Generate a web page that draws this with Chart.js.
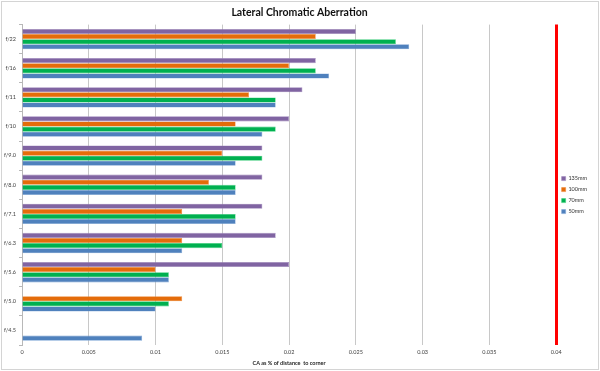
<!DOCTYPE html>
<html>
<head>
<meta charset="utf-8">
<script src="https://cdn.jsdelivr.net/npm/chart.js@4"></script>
<style>
    body { margin: 0; background: #fff; }
    #wrap { width: 600px; height: 371px; }
</style>
</head>
<body>
<div id="wrap"><canvas id="caChart" width="600" height="371"></canvas></div>
<script>
const apertures = ['f/22', 'f/16', 'f/11', 'f/10', 'f/9.0', 'f/8.0', 'f/7.1', 'f/6.3', 'f/5.6', 'f/5.0', 'f/4.5'];
const ca135 = [0.025, 0.022, 0.021, 0.020, 0.018, 0.018, 0.018, 0.019, 0.020, null, null];
const ca100 = [0.022, 0.020, 0.017, 0.016, 0.015, 0.014, 0.012, 0.012, 0.010, 0.012, null];
const ca70 = [0.028, 0.022, 0.019, 0.019, 0.018, 0.016, 0.016, 0.015, 0.011, 0.011, null];
const ca50 = [0.029, 0.023, 0.019, 0.018, 0.016, 0.016, 0.016, 0.012, 0.011, 0.010, 0.009];
const xTickLabels = ['0', '0.005', '0.01', '0.015', '0.02', '0.025', '0.03', '0.035', '0.04'];
const limitValue = 0.04;

const font = 'Lato, "Open Sans", sans-serif';

// light grey frame round the whole picture
const framePlugin = {
    id: 'frame',
    afterDraw(chart) {
        const ctx = chart.ctx;
        ctx.save();
        ctx.strokeStyle = '#d4d4d4';
        ctx.lineWidth = 1;
        ctx.strokeRect(1.5, 1.5, chart.width - 3, chart.height - 3);
        ctx.restore();
    }
};

function series(label, data, color, border) {
    return {
        label: label,
        data: data,
        backgroundColor: color,
        borderColor: border,
        borderWidth: 0.6,
        categoryPercentage: 0.7,
        barPercentage: 1.0
    };
}

const ctx = document.getElementById('caChart').getContext('2d');
new Chart(ctx, {
    type: 'bar',
    data: {
        labels: apertures,
        datasets: [
            series('135mm', ca135, '#8064A2', '#9f88bd'),
            series('100mm', ca100, '#E46C0A', '#f08a3a'),
            series('70mm', ca70, '#00B050', '#3fd17c'),
            series('50mm', ca50, '#4F81BD', '#7fa6d6')
        ]
    },
    options: {
        indexAxis: 'y',
        responsive: false,
        animation: false,
        layout: { padding: { left: 2, right: 3, top: 0, bottom: 4 } },
        scales: {
            x: {
                min: 0,
                max: limitValue,
                afterBuildTicks: function(scale) {
                    scale.ticks = xTickLabels.map((t, i) => ({ value: i * 0.005 }));
                },
                afterFit: function(scale) { scale.height = 22; },
                border: { display: false },
                grid: {
                    color: c => (c.tick && Math.abs(c.tick.value - limitValue) < 1e-9) ? '#ff0000' : '#c8c8c8',
                    lineWidth: c => (c.tick && Math.abs(c.tick.value - limitValue) < 1e-9) ? 3 : 1,
                    drawTicks: false
                },
                ticks: {
                    padding: 4,
                    maxRotation: 0,
                    color: '#404040',
                    font: { family: font, size: 5.5 },
                    callback: (value, index) => xTickLabels[index]
                },
                title: {
                    display: true,
                    text: 'CA as % of distance  to corner',
                    color: '#222',
                    font: { family: font, size: 5.5, weight: 'bold' },
                    padding: { top: 2, bottom: 0 }
                }
            },
            y: {
                afterFit: function(scale) { scale.width = 20; },
                border: { display: true, color: '#b8b8b8' },
                grid: {
                    offset: true,
                    drawOnChartArea: false,
                    tickLength: 3,
                    color: '#b8b8b8'
                },
                ticks: {
                    padding: 3,
                    color: '#404040',
                    font: { family: font, size: 5.5 }
                }
            }
        },
        plugins: {
            title: {
                display: true,
                text: 'Lateral Chromatic Aberration',
                color: '#111',
                font: { family: font, size: 10.5, weight: 'bold' },
                padding: { top: 6, bottom: 6 }
            },
            legend: {
                position: 'right',
                title: {
                    display: true,
                    text: ' ',
                    font: { size: 6 },
                    padding: { top: 8, bottom: 8 }
                },
                labels: {
                    boxWidth: 4,
                    boxHeight: 4,
                    padding: 5.5,
                    color: '#333',
                    font: { family: font, size: 5.5 }
                }
            },
            tooltip: { enabled: false }
        }
    },
    plugins: [framePlugin]
});
</script>
</body>
</html>
